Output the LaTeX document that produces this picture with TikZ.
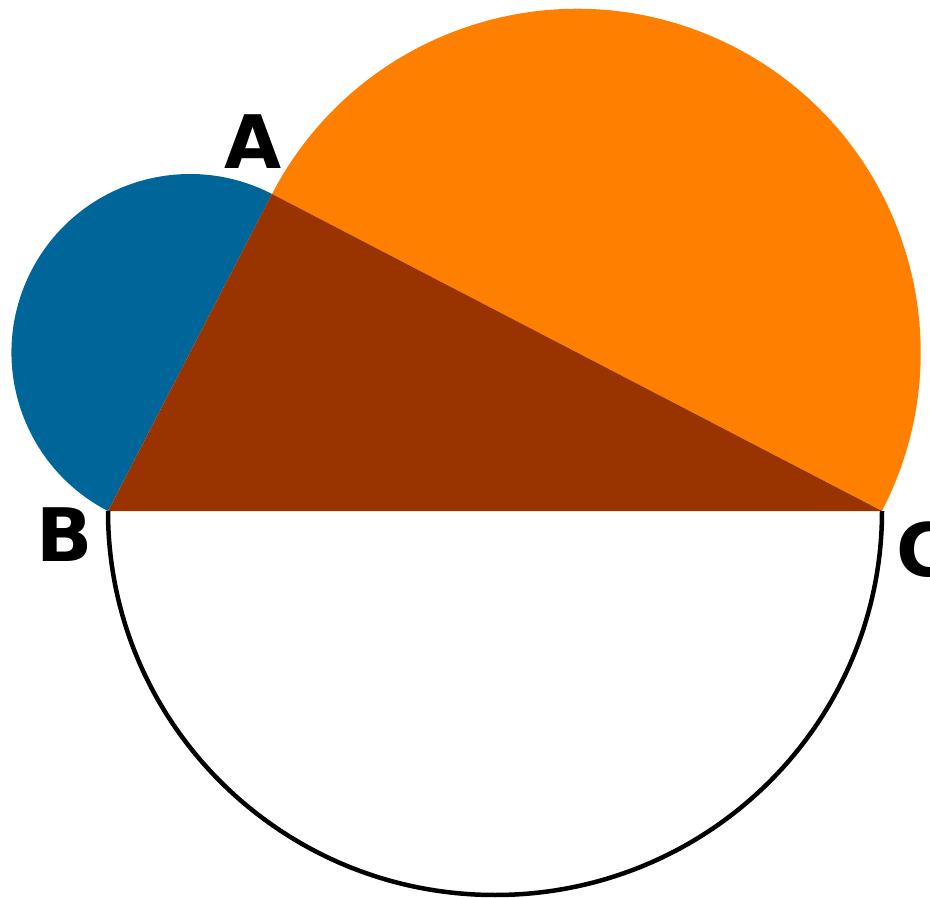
\documentclass[tikz,border=0pt]{standalone}
\usepackage{fontspec}
\setmainfont{DejaVu Sans}
\usepackage{tikz}
\usetikzlibrary{positioning, calc}

\definecolor{sideblue}{HTML}{006699}
\definecolor{sideorange}{HTML}{FF8000}
\definecolor{triangle}{HTML}{993300}

\begin{document}
\begin{tikzpicture}[x=0.02cm, y=0.02cm]
\tikzset{
    every node/.style={font=\fontsize{42}{42}\selectfont\bfseries, inner sep=0pt},
    rim/.style={draw=black, line width=0.09cm}
}
\useasboundingbox (0,0) rectangle (930,897);

\coordinate (B) at (108,386);
\coordinate (C) at (882,386);
\coordinate (A) at (272,703);

% half discs on the two short sides
\fill[sideblue] (A) arc[start angle=62.64, end angle=242.64, radius=178.5] -- cycle;
\fill[sideorange] (A) arc[start angle=152.54, end angle=-27.46, radius=343.7] -- cycle;

% the triangle
\fill[triangle] (A) -- (B) -- (C) -- cycle;

% half circle under BC
\draw[rim] (B) arc[start angle=180, end angle=360, x radius=387, y radius=384];

\node (lblA) at (253,755) {A};
\node (lblB) at (65,362) {B};
\node (lblC) at (924,347) {C};
\end{tikzpicture}
\end{document}
